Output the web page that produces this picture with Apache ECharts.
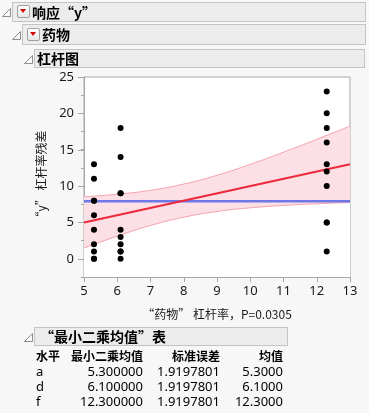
<!DOCTYPE html>
<html>
<head>
<meta charset="utf-8">
<script src="https://cdn.jsdelivr.net/npm/echarts@6/dist/echarts.min.js"></script>
<style>
  html,body{margin:0;padding:0;}
  body{width:369px;height:413px;overflow:hidden;position:relative;background:#f7f7f7;
       font-family:'Noto Sans','Noto Sans CJK SC',sans-serif;color:#000;}
  #chart{position:absolute;left:0;top:0;width:369px;height:413px;z-index:0;}
  .bar{position:absolute;background:#ececec;border:1px solid #c4c4c4;box-sizing:border-box;z-index:1;}
  .tri{position:absolute;width:9px;height:9px;z-index:2;}
  .btn{position:absolute;width:13px;height:13px;box-sizing:border-box;border:1px solid #a0a0a0;border-radius:2px;
       background:linear-gradient(#ffffff,#e6e6e6);z-index:2;}
  .btn::after{content:'';position:absolute;left:2px;top:3px;width:0;height:0;
       border-left:3.5px solid transparent;border-right:3.5px solid transparent;border-top:4px solid #d40000;}
  .ttl{position:absolute;font-weight:bold;font-size:14px;white-space:nowrap;z-index:2;
       font-family:'Noto Sans CJK SC','Noto Sans',sans-serif;}
  .cell{position:absolute;font-size:13px;line-height:15px;white-space:nowrap;z-index:2;
       font-family:'Noto Sans','Noto Sans CJK SC',sans-serif;}
  .hd{font-size:12px;font-weight:bold;font-family:'Noto Sans CJK SC','Noto Sans',sans-serif;}
</style>
</head>
<body>
<div id="chart"></div>

<div class="bar" style="left:12px;top:2px;width:354px;height:20px"></div>
<svg class="tri" style="left:2px;top:8px" viewBox="0 0 9 9"><polygon points="8.5,0.5 8.5,8.5 0.5,8.5" fill="#fafafa" stroke="#8c8c8c" stroke-width="1"/></svg>
<div class="btn" style="left:17px;top:5px"></div>
<div class="ttl" style="left:32px;top:2px;line-height:20px">响应“y”</div>

<div class="bar" style="left:22px;top:24px;width:344px;height:21px"></div>
<svg class="tri" style="left:12px;top:31px" viewBox="0 0 9 9"><polygon points="8.5,0.5 8.5,8.5 0.5,8.5" fill="#fafafa" stroke="#8c8c8c" stroke-width="1"/></svg>
<div class="btn" style="left:27px;top:28px"></div>
<div class="ttl" style="left:42px;top:24px;line-height:21px">药物</div>

<div class="bar" style="left:34px;top:49px;width:331px;height:19px"></div>
<svg class="tri" style="left:24px;top:55px" viewBox="0 0 9 9"><polygon points="8.5,0.5 8.5,8.5 0.5,8.5" fill="#fafafa" stroke="#8c8c8c" stroke-width="1"/></svg>
<div class="ttl" style="left:37px;top:49px;line-height:19px">杠杆图</div>

<div class="bar" style="left:34px;top:327px;width:254px;height:19px"></div>
<svg class="tri" style="left:24px;top:333px" viewBox="0 0 9 9"><polygon points="8.5,0.5 8.5,8.5 0.5,8.5" fill="#fafafa" stroke="#8c8c8c" stroke-width="1"/></svg>
<div class="ttl" style="left:40px;top:327px;line-height:19px">“最小二乘均值”表</div>

<div id="table"></div>

<script>
// ---- data ----
const levels = ['a', 'd', 'f'];
const levelX = [5.3, 6.1, 12.3];                 // leverage x position of each level
const yLevelA = [6, 0, 2, 8, 11, 4, 13, 1, 8, 0];
const yLevelD = [0, 2, 3, 1, 18, 4, 14, 9, 1, 9];
const yLevelF = [13, 10, 18, 5, 23, 12, 5, 16, 1, 20];
const meanLineY = 7.9;
const fitX = [5, 13];
const fitY = [5, 13];
const bandX = [5, 6, 7, 8, 9, 10, 11, 12, 13];
const bandUpper = [8.52, 8.88, 9.42, 10.28, 11.49, 12.99, 14.66, 16.43, 18.25];
const bandLower = [1.48, 3.12, 4.58, 5.72, 6.51, 7.01, 7.34, 7.57, 7.75];
const xTickLabels = ['5','6','7','8','9','10','11','12','13'];
const yTickLabels = ['0','5','10','15','20','25'];
const xAxisTitle = '“药物” 杠杆率，P=0.0305';
const yAxisTitle = '“y” 杠杆率残差';

// table
const tableHeader = ['水平', '最小二乘均值', '标准误差', '均值'];
const lsMeans = ['5.300000', '6.100000', '12.300000'];
const stdErrs = ['1.9197801', '1.9197801', '1.9197801'];
const means = ['5.3000', '6.1000', '12.3000'];

// ---- build table ----
(function(){
  const t = document.getElementById('table');
  const rightEdges = [null, 143, 220, 283];
  const rowTops = [348, 364, 379, 394];
  function cell(text, col, row, bold){
    const d = document.createElement('div');
    d.className = 'cell' + (bold ? ' hd' : '');
    d.textContent = text;
    d.style.top = rowTops[row] + 'px';
    if (col === 0) d.style.left = '36px';
    else d.style.right = (369 - rightEdges[col]) + 'px';
    t.appendChild(d);
  }
  tableHeader.forEach((h, i) => cell(h, i, 0, true));
  levels.forEach((lv, r) => {
    cell(lv, 0, r + 1);
    cell(lsMeans[r], 1, r + 1);
    cell(stdErrs[r], 2, r + 1);
    cell(means[r], 3, r + 1);
  });
})();

// ---- chart ----
const chart = echarts.init(document.getElementById('chart'), null, {renderer: 'canvas'});
const pts = [];
[yLevelA, yLevelD, yLevelF].forEach((arr, i) => arr.forEach(v => pts.push([levelX[i], v])));
const upperData = bandX.map((x, i) => [x, bandUpper[i]]);
const lowerData = bandX.map((x, i) => [x, bandLower[i]]);
const font = "'Noto Sans','Noto Sans CJK SC',sans-serif";
const axisGray = '#a8a8a8';
const labelColor = '#1a1a1a';

chart.setOption({
  animation: false,
  backgroundColor: 'transparent',
  textStyle: {fontFamily: font},
  grid: [
    {left: 84, top: 77, width: 266, height: 200, show: true, backgroundColor: '#ffffff', borderColor: axisGray, borderWidth: 1},
    {left: 84, top: 77, width: 266, height: 182, show: false}
  ],
  xAxis: [
    {gridIndex: 0, type: 'value', position: 'bottom', min: 5, max: 13, interval: 1,
     axisLine: {show: true, onZero: false, lineStyle: {color: axisGray, width: 1}},
     axisTick: {show: true, length: 5, lineStyle: {color: axisGray}},
     axisLabel: {fontSize: 13, color: labelColor, margin: 8, fontFamily: font,
                 formatter: v => xTickLabels[Math.round(v) - 5]},
     splitLine: {show: false},
     name: xAxisTitle, nameLocation: 'middle', nameGap: 31,
     nameTextStyle: {fontSize: 12, color: labelColor, fontFamily: "'Noto Sans CJK SC','Noto Sans',sans-serif"}},
    {gridIndex: 1, type: 'value', position: 'bottom', min: 5, max: 13, show: false,
     axisLine: {show: false, onZero: false}, axisTick: {show: false}, axisLabel: {show: false}, splitLine: {show: false}}
  ],
  yAxis: [
    {gridIndex: 0, type: 'value', position: 'left', min: -2.5, max: 25, interval: 2.5,
     axisLine: {show: true, onZero: false, lineStyle: {color: axisGray, width: 1}},
     axisTick: {show: true, length: 3, lineStyle: {color: axisGray}},
     axisLabel: {show: false},
     splitLine: {show: false},
     name: yAxisTitle, nameLocation: 'middle', nameGap: 37, nameRotate: 90,
     nameTextStyle: {fontSize: 12, color: labelColor, fontFamily: "'Noto Sans CJK SC','Noto Sans',sans-serif"}},
    {gridIndex: 1, type: 'value', position: 'left', min: 0, max: 25, interval: 5,
     axisLine: {show: false, onZero: false},
     axisTick: {show: true, length: 6, lineStyle: {color: axisGray}},
     axisLabel: {fontSize: 13, color: labelColor, margin: 10, fontFamily: font,
                 formatter: v => yTickLabels[Math.round(v / 5)]},
     splitLine: {show: false}}
  ],
  series: [
    {type: 'line', name: 'upper', xAxisIndex: 0, yAxisIndex: 0, data: upperData, smooth: true,
     symbol: 'none', z: 1, lineStyle: {color: '#f5a3ad', width: 1},
     areaStyle: {color: '#fde0e5', opacity: 1, origin: 'start'}},
    {type: 'line', name: 'lower', xAxisIndex: 0, yAxisIndex: 0, data: lowerData, smooth: true,
     symbol: 'none', z: 1, lineStyle: {color: '#f5a3ad', width: 1},
     areaStyle: {color: '#ffffff', opacity: 1, origin: 'start'}},
    {type: 'line', name: 'mean', xAxisIndex: 0, yAxisIndex: 0, data: fitX.map(x => [x, meanLineY]),
     symbol: 'none', z: 3, lineStyle: {color: '#6f78e6', width: 2.5}},
    {type: 'line', name: 'fit', xAxisIndex: 0, yAxisIndex: 0, data: fitX.map((x, i) => [x, fitY[i]]),
     symbol: 'none', z: 4, lineStyle: {color: '#ec2a3c', width: 2.2}},
    {type: 'scatter', name: 'points', xAxisIndex: 0, yAxisIndex: 0, data: pts,
     symbol: 'circle', symbolSize: 6, z: 5, itemStyle: {color: '#000000', opacity: 1}}
  ]
});
</script>
</body>
</html>
